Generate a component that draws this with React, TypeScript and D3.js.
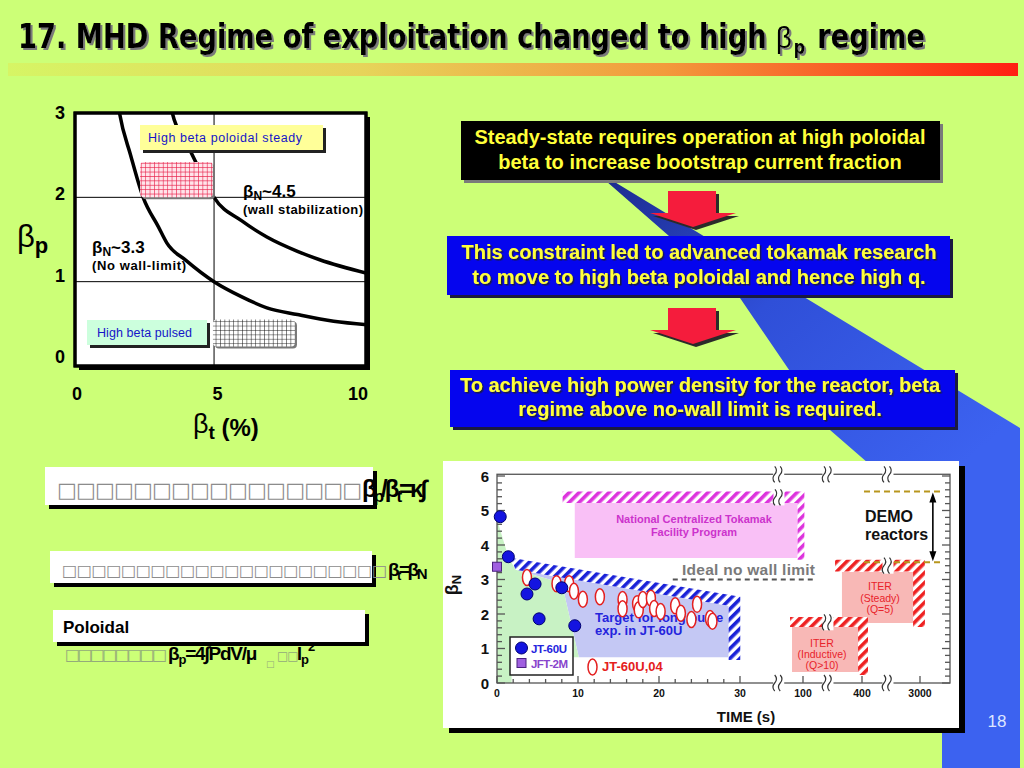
import React from 'react';
import * as d3 from 'd3';

type P = [number, number];

// ---------- left chart: beta_p vs beta_t ----------
const btTicks = [0, 5, 10];
const bpTicks = [0, 1, 2, 3];
const bpGrid = [1, 2];
const btGrid = [5];
// beta_N ~ 3.3 (no wall limit)
const noWallCurve: P[] = [
  [1.55, 3.1], [1.6, 3.0], [2.0, 2.5], [2.45, 2.0], [3.0, 1.65], [3.3, 1.46], [4.0, 1.25],
  [5.0, 1.0], [6.0, 0.82], [6.9, 0.69], [8.0, 0.61], [9.3, 0.53], [10.5, 0.49],
];
// beta_N ~ 4.5 (wall stabilization)
const wallCurve: P[] = [
  [3.45, 3.1], [3.5, 3.0], [4.0, 2.65], [4.6, 2.25], [5.0, 2.0], [6.0, 1.72], [6.9, 1.53],
  [8.0, 1.36], [8.8, 1.26], [10.5, 1.1],
];

// ---------- right chart: beta_N vs time ----------
const timeTicks = [0, 10, 20, 30, 100, 400, 3000];
const timeMinor = [2, 4, 6, 8, 12, 14, 16, 18, 22, 24, 26, 28];
const timeBreaks = [73, 227, 1565];
const betaNTicks = [0, 1, 2, 3, 4, 5, 6];
const jt60u: P[] = [[0.4, 4.82], [1.4, 3.66], [3.7, 2.58], [4.7, 2.87], [5.2, 1.86], [8.0, 2.76], [9.6, 1.66]];
const jft2m: P[] = [[0, 3.37]];
const jt60u04: P[] = [
  [3.7, 3.06], [7.35, 2.88], [8.9, 2.88], [9.5, 2.66], [10.6, 2.43], [12.7, 2.5], [15.5, 2.42],
  [15.5, 2.15], [17.3, 2.3], [17.5, 2.12], [18.0, 2.42], [19.0, 2.46], [19.4, 2.16], [20.2, 2.07],
  [22.0, 2.24], [22.7, 2.02], [24.0, 1.84], [24.7, 2.28], [26.3, 1.87], [26.6, 1.79],
];
const achievedRegion: P[] = [[0, 0], [0, 4.75], [1.4, 3.65], [2.3, 3.28], [8.0, 2.9], [10.1, 0.75], [1.8, 0.75], [1.8, 0]];
const targetFill: P[] = [[2.3, 3.28], [28.6, 2.24], [28.6, 0.75], [10.1, 0.75], [8.0, 2.9]];
const targetHatch: P[] = [[1.7, 3.63], [30.3, 2.5], [30.3, 0.67], [28.6, 0.67], [28.6, 2.24], [2.3, 3.28]];
const nctFill: P[] = [[9.6, 5.22], [94, 5.22], [94, 3.62], [9.6, 3.62]];
const nctHatch: P[] = [[8.1, 5.55], [107, 5.55], [107, 3.57], [94, 3.57], [94, 5.22], [8.1, 5.22]];
const iterSteadyFill: P[] = [[298, 3.22], [2690, 3.22], [2690, 1.74], [298, 1.74]];
const iterSteadyHatch: P[] = [[263, 3.57], [3230, 3.57], [3230, 1.62], [2690, 1.62], [2690, 3.23], [263, 3.23]];
const iterIndFill: P[] = [[87.8, 1.62], [380, 1.62], [380, 0.32], [87.8, 0.32]];
const iterIndHatch: P[] = [[85.6, 1.91], [669, 1.91], [669, 0.23], [380, 0.23], [380, 1.62], [85.6, 1.62]];
const idealLimit: P[] = [[21.7, 3.0], [160, 3.0]];
const demoLimits = [5.55, 3.5];
const demoSpan = [490, 4100];
const demoArrowAt = 3600;
const regionBreaks: P[] = [[73.3, 5.38], [227, 1.76], [1565, 3.4]];

const FF = "'Liberation Sans', Arial, Helvetica, sans-serif";
const NARROW = "'Liberation Sans Narrow', 'Arial Narrow', 'DejaVu Sans Condensed', sans-serif";
const BOX = "'DejaVu Sans', sans-serif";

const xL = d3.scaleLinear().domain([0, 10.5]).range([75, 367]);
const yL = d3.scaleLinear().domain([0, 3]).range([366, 113]);
const xLLabel = d3.scaleLinear().domain([0, 10]).range([77, 358]);
const yLLabel = d3.scaleLinear().domain([0, 3]).range([363, 119]);

const xR = d3.scaleLinear().domain([0, 30, 100, 400, 3000, 4400]).range([497, 740, 803, 862, 920, 950]);
const yR = d3.scaleLinear().domain([0, 6]).range([683, 476]);

const curveL = d3.line<P>().x(d => xL(d[0])).y(d => yL(d[1])).curve(d3.curveMonotoneX);
const polyR = (pts: P[]) => (d3.line()(pts.map(([t, b]) => [xR(t), yR(b)] as [number, number])) || '') + 'Z';

const BreakMark = ({ x, y }: { x: number; y: number }) => (
  <g>
    <rect x={x - 5.5} y={y - 8} width={11} height={16} fill="#fff" />
    <path
      d={`M${x - 4},${y - 8} q3.5,4 0,8 q-3.5,4 0,8 M${x + 1.5},${y - 8} q3.5,4 0,8 q-3.5,4 0,8`}
      fill="none" stroke="#333" strokeWidth={1.2}
    />
  </g>
);

const arrowPath = 'M668,191 H716 V213 H736 L693,227 L650,213 H668 Z';

export default function App() {
  const yMinor = d3.range(0, 6.001, 0.2).filter(v => Math.abs(v - Math.round(v)) > 0.01);
  const frameTop = yR(6.05);
  const frameRight = xR(4400);

  return (
    <div style={{ position: 'absolute', left: 0, top: 0 }}>
      <svg width={1024} height={768} viewBox="0 0 1024 768" style={{ display: 'block' }}>
        <defs>
          <linearGradient id="bar" x1="0" x2="1" y1="0" y2="0">
            <stop offset="0%" stopColor="#d6f565" />
            <stop offset="35%" stopColor="#e6d45a" />
            <stop offset="65%" stopColor="#f29a3c" />
            <stop offset="100%" stopColor="#ff1f12" />
          </linearGradient>
          <linearGradient id="beam" gradientUnits="userSpaceOnUse" x1="600" y1="180" x2="900" y2="520">
            <stop offset="0%" stopColor="#1c2b8e" />
            <stop offset="45%" stopColor="#2f4fd8" />
            <stop offset="100%" stopColor="#3c62f0" />
          </linearGradient>
          <filter id="titleShadow" x="-5%" y="-30%" width="110%" height="160%">
            <feDropShadow dx="2" dy="2" stdDeviation="0.4" floodColor="#7a7a7a" floodOpacity="1" />
          </filter>
          <filter id="boxShadow" x="-5%" y="-30%" width="110%" height="160%">
            <feDropShadow dx="1.5" dy="1.5" stdDeviation="0.3" floodColor="#1a1a40" floodOpacity="1" />
          </filter>
          <pattern id="redGrid" width="4.4" height="4.4" patternUnits="userSpaceOnUse">
            <rect width="4.4" height="4.4" fill="#ffe4ea" />
            <path d="M0,0 H4.4 M0,0 V4.4" stroke="#e8204a" strokeWidth="1.2" />
          </pattern>
          <pattern id="blackGrid" width="4.4" height="4.4" patternUnits="userSpaceOnUse">
            <rect width="4.4" height="4.4" fill="#fff" />
            <path d="M0,0 H4.4 M0,0 V4.4" stroke="#111" strokeWidth="1" />
          </pattern>
          {[['hBlue', '#1a22d8'], ['hMag', '#dd33dd'], ['hRed', '#ee2222']].map(([id, c]) => (
            <pattern key={id} id={id} width="7" height="7" patternUnits="userSpaceOnUse" patternTransform="rotate(45)">
              <rect width="7" height="7" fill="#fff" />
              <rect width="3.6" height="7" fill={c} />
            </pattern>
          ))}
          <clipPath id="leftPlot">
            <rect x={xL(0)} y={yL(3)} width={xL(10.5) - xL(0)} height={yL(0) - yL(3)} />
          </clipPath>
        </defs>

        {/* background */}
        <rect width={1024} height={768} fill="#ccff77" />

        {/* blue beam */}
        <path d="M606,181 L740,298 L830,430 L868,463 L942,720 L942,768 L1020,768 L1020,428 L613,181 Z" fill="url(#beam)" />

        {/* title */}
        <text x={18} y={48} fontFamily={NARROW} fontWeight="bold" fontSize={33} fill="#000"
          textLength={907} lengthAdjust="spacingAndGlyphs" filter="url(#titleShadow)">
          17. MHD Regime of exploitation changed to high <tspan fontFamily={FF} fontWeight="normal" fontSize={30}>β</tspan><tspan fontSize={19} dx={2} dy={6}>p</tspan><tspan dx={3} dy={-6}> regime</tspan>
        </text>
        <rect x={8} y={63} width={1010} height={13} fill="url(#bar)" />

        {/* ---------- left chart ---------- */}
        <rect x={79} y={117} width={291} height={253} fill="#000" />
        <rect x={75} y={113} width={291} height={253} fill="#fff" stroke="#000" strokeWidth={3} />
        {bpGrid.map(v => (
          <line key={'bg' + v} x1={xL(0)} x2={xL(10.5)} y1={yL(v)} y2={yL(v)} stroke="#000" strokeWidth={1} />
        ))}
        {btGrid.map(v => (
          <line key={'tg' + v} x1={xL(v)} x2={xL(v)} y1={yL(0)} y2={yL(3)} stroke="#000" strokeWidth={1} />
        ))}
        <g clipPath="url(#leftPlot)" fill="none" stroke="#000" strokeWidth={3.5}>
          <path d={curveL(noWallCurve) || ''} />
          <path d={curveL(wallCurve) || ''} />
        </g>
        <rect x={75} y={113} width={291} height={253} fill="none" stroke="#000" strokeWidth={3} />

        {/* annotation boxes */}
        <rect x={143} y={128} width={183} height={25} fill="#222" />
        <rect x={140} y={125} width={183} height={25} fill="#ffff99" />
        <text x={148} y={142} fontFamily={FF} fontSize={12.5} fill="#1515c8" textLength={154}>High beta poloidal steady</text>

        <rect x={xL(2.34) + 2} y={yL(2.42) + 2} width={xL(4.96) - xL(2.34)} height={yL(2.0) - yL(2.42)} rx={4} fill="#777" />
        <rect x={xL(2.34)} y={yL(2.42)} width={xL(4.96) - xL(2.34)} height={yL(2.0) - yL(2.42)} rx={4} fill="url(#redGrid)" />

        <rect x={90} y={323} width={120} height={25} fill="#222" />
        <rect x={87} y={320} width={120} height={25} fill="#ccffdd" />
        <text x={97} y={337} fontFamily={FF} fontSize={12.5} fill="#1515c8" textLength={95}>High beta pulsed</text>

        <rect x={xL(4.96) + 2} y={yL(0.55) + 2} width={xL(7.91) - xL(4.96)} height={yL(0.23) - yL(0.55)} rx={4} fill="#777" />
        <rect x={xL(4.96)} y={yL(0.55)} width={xL(7.91) - xL(4.96)} height={yL(0.23) - yL(0.55)} rx={4} fill="url(#blackGrid)" />

        <g fontFamily={FF} fontWeight="bold" fill="#000">
          <text x={243} y={197} fontSize={17}>β<tspan fontSize={12} dy={3}>N</tspan><tspan dy={-3}>~4.5</tspan></text>
          <text x={243} y={214} fontSize={13} textLength={120}>(wall stabilization)</text>
          <text x={92} y={253} fontSize={17}>β<tspan fontSize={12} dy={3}>N</tspan><tspan dy={-3}>~3.3</tspan></text>
          <text x={92} y={270} fontSize={13} textLength={94}>(No wall-limit)</text>

          {bpTicks.map(v => (
            <text key={'bp' + v} x={60} y={yLLabel(v)} fontSize={18} textAnchor="middle">{v}</text>
          ))}
          {btTicks.map(v => (
            <text key={'bt' + v} x={xLLabel(v)} y={400} fontSize={18} textAnchor="middle">{v}</text>
          ))}
          <text x={17} y={247} fontSize={31} fontWeight="normal">β<tspan fontSize={22} fontWeight="bold" dy={6}>p</tspan></text>
          <text x={193} y={433} fontSize={27} fontWeight="normal">β<tspan fontSize={19} fontWeight="bold" dy={6}>t</tspan><tspan fontSize={24} fontWeight="bold" dy={-3}> (%)</tspan></text>
        </g>

        {/* ---------- flow boxes ---------- */}
        <rect x={464} y={124} width={479} height={59} fill="#7a7a7a" />
        <rect x={461} y={121} width={479} height={59} fill="#000" />
        <g fontFamily={FF} fontWeight="bold" fontSize={20} textAnchor="middle" fill="#ffff3a">
          <text x={700} y={144} textLength={451}>Steady-state requires operation at high poloidal</text>
          <text x={700} y={169}>beta to increase bootstrap current fraction</text>
        </g>

        <path d={arrowPath} fill="#2a2a2a" transform="translate(3,3)" />
        <path d={arrowPath} fill="#f51c3c" />

        <rect x={450} y={239} width={503} height={59} fill="#1a1a40" />
        <rect x={447} y={236} width={503} height={59} fill="#0505ee" />
        <g fontFamily={FF} fontWeight="bold" fontSize={20} textAnchor="middle" fill="#ffff3a" filter="url(#boxShadow)">
          <text x={699} y={259} textLength={475}>This constraint led to advanced tokamak research</text>
          <text x={699} y={284}>to move to high beta poloidal and hence high q.</text>
        </g>

        <path d={arrowPath} fill="#2a2a2a" transform="translate(3,120)" />
        <path d={arrowPath} fill="#f51c3c" transform="translate(0,117)" />

        <rect x={453} y={373} width={505} height={57} fill="#1a1a40" />
        <rect x={450} y={370} width={505} height={57} fill="#0505ee" />
        <g fontFamily={FF} fontWeight="bold" fontSize={20} textAnchor="middle" fill="#ffff3a" filter="url(#boxShadow)">
          <text x={700} y={392} textLength={480}>To achieve high power density for the reactor, beta</text>
          <text x={700} y={416}>regime above no-wall limit is required.</text>
        </g>

        {/* ---------- bottom-left text boxes ---------- */}
        <rect x={49} y={471} width={328} height={38} fill="#000" />
        <rect x={45} y={467} width={328} height={38} fill="#fff" />
        <text x={57} y={497} fontFamily={BOX} fontSize={21} fill="#8c8c8c" textLength={305} lengthAdjust="spacing">{'□'.repeat(16)}</text>
        <text x={362} y={497} fontFamily={FF} fontWeight="bold" fontSize={24} fill="#000" letterSpacing={-3}>
          β<tspan fontSize={17} dy={5}>p</tspan><tspan dy={-5}>/β</tspan><tspan fontSize={17} dy={5}>t</tspan><tspan dy={-5}>=κ∫</tspan>
        </text>

        <rect x={54} y={555} width={322} height={32} fill="#000" />
        <rect x={50} y={551} width={322} height={32} fill="#fff" />
        <text x={62} y={576} fontFamily={BOX} fontSize={16} fill="#8c8c8c" textLength={325} lengthAdjust="spacing">{'□'.repeat(22)}</text>
        <text x={388} y={576} fontFamily={FF} fontWeight="bold" fontSize={19} fill="#000" letterSpacing={-2.5}>
          β<tspan fontSize={13} dy={4}>t</tspan><tspan dy={-4}>=β</tspan><tspan fontSize={15} dy={3}>N</tspan>
        </text>

        <rect x={57} y={614} width={312} height={32} fill="#000" />
        <rect x={53} y={610} width={312} height={32} fill="#fff" />
        <text x={63} y={633} fontFamily={FF} fontWeight="bold" fontSize={17} fill="#000">Poloidal</text>
        <text x={65} y={660} fontFamily={BOX} fontSize={16} fill="#93ab7a" textLength={102} lengthAdjust="spacing">{'□'.repeat(8)}</text>
        <text x={168} y={660} fontFamily={FF} fontWeight="bold" fontSize={19} fill="#000" letterSpacing={-1.2}>
          β<tspan fontSize={13} dy={4}>p</tspan><tspan dy={-4}>=4∫PdV/μ</tspan>
        </text>
        <text x={266} y={667} fontFamily={BOX} fontSize={9} fill="#93ab7a">□</text>
        <text x={277} y={660} fontFamily={BOX} fontSize={12} fill="#93ab7a" letterSpacing={-1}>□□</text>
        <text x={297} y={660} fontFamily={FF} fontWeight="bold" fontSize={18} fill="#000" letterSpacing={-1}>
          I<tspan fontSize={13} dy={4}>p</tspan><tspan fontSize={13} dy={-13}>2</tspan>
        </text>

        {/* ---------- right chart ---------- */}
        <rect x={449} y={466} width={516} height={267} fill="#000" />
        <rect x={443} y={461} width={516} height={267} fill="#fff" />

        <path d={polyR(targetFill)} fill="#c4c8f4" />
        <path d={polyR(achievedRegion)} fill="#c8f2c4" />
        <path d={polyR(targetHatch)} fill="url(#hBlue)" />
        <path d={polyR(nctFill)} fill="#f9c0f6" />
        <path d={polyR(nctHatch)} fill="url(#hMag)" />
        <path d={polyR(iterSteadyFill)} fill="#f8b8b6" />
        <path d={polyR(iterSteadyHatch)} fill="url(#hRed)" />
        <path d={polyR(iterIndFill)} fill="#f8b8b6" />
        <path d={polyR(iterIndHatch)} fill="url(#hRed)" />

        <line x1={xR(idealLimit[0][0])} x2={xR(idealLimit[1][0])} y1={yR(idealLimit[0][1])} y2={yR(idealLimit[1][1])}
          stroke="#555" strokeWidth={2} strokeDasharray="5,4" />
        {demoLimits.map(v => (
          <line key={'dm' + v} x1={xR(demoSpan[0])} x2={xR(demoSpan[1])} y1={yR(v)} y2={yR(v)}
            stroke="#b8961e" strokeWidth={2} strokeDasharray="6,4" />
        ))}
        <line x1={xR(demoArrowAt)} x2={xR(demoArrowAt)} y1={yR(demoLimits[0]) + 8} y2={yR(demoLimits[1]) - 8} stroke="#000" strokeWidth={1.6} />
        <path d={`M${xR(demoArrowAt)},${yR(demoLimits[0]) + 1} l-3.5,10 h7 Z M${xR(demoArrowAt)},${yR(demoLimits[1]) - 1} l-3.5,-10 h7 Z`} fill="#000" />

        {/* frame and ticks */}
        <g stroke="#555" strokeWidth={1.3} fill="none">
          <rect x={xR(0)} y={frameTop} width={frameRight - xR(0)} height={yR(0) - frameTop} />
          {betaNTicks.map(v => (
            <g key={'yt' + v}>
              <line x1={xR(0)} x2={xR(0) + 8} y1={yR(v)} y2={yR(v)} />
              <line x1={frameRight} x2={frameRight - 8} y1={yR(v)} y2={yR(v)} />
            </g>
          ))}
          {yMinor.map(v => (
            <g key={'ym' + v}>
              <line x1={xR(0)} x2={xR(0) + 5} y1={yR(v)} y2={yR(v)} />
              <line x1={frameRight} x2={frameRight - 5} y1={yR(v)} y2={yR(v)} />
            </g>
          ))}
          {timeTicks.map(v => (
            <line key={'xt' + v} x1={xR(v)} x2={xR(v)} y1={yR(0)} y2={yR(0) - 7} />
          ))}
          {timeMinor.map(v => (
            <line key={'xm' + v} x1={xR(v)} x2={xR(v)} y1={yR(0)} y2={yR(0) - 4} />
          ))}
        </g>

        {/* text in plot */}
        <g fontFamily={FF} fontWeight="bold">
          <text x={694} y={523} fontSize={11} fill="#cc33cc" textAnchor="middle">National Centralized Tokamak</text>
          <text x={694} y={536} fontSize={11} fill="#cc33cc" textAnchor="middle">Facility Program</text>
          <text x={682} y={575} fontSize={15.5} fill="#7a7a7a" textLength={133}>Ideal no wall limit</text>
          <text x={595} y={622} fontSize={13} fill="#2424dd">Target for long pulse</text>
          <text x={595} y={635} fontSize={13} fill="#2424dd">exp. in JT-60U</text>
          <text x={865} y={522} fontSize={16} fill="#111">DEMO</text>
          <text x={865} y={540} fontSize={16} fill="#111">reactors</text>
        </g>
        <g fontFamily={FF} fontSize={10.5} fill="#e8222a" textAnchor="middle">
          <text x={880} y={590}>ITER</text>
          <text x={880} y={601.5}>(Steady)</text>
          <text x={880} y={613}>(Q=5)</text>
          <text x={822} y={646.5}>ITER</text>
          <text x={822} y={657.5}>(Inductive)</text>
          <text x={822} y={668.5}>(Q&gt;10)</text>
        </g>

        {/* data points */}
        {jt60u04.map(([t, b], i) => (
          <ellipse key={'e' + i} cx={xR(t)} cy={yR(b)} rx={4.5} ry={8} fill="#fff" stroke="#e42020" strokeWidth={1.5} />
        ))}
        {jt60u.map(([t, b], i) => (
          <circle key={'c' + i} cx={xR(t)} cy={yR(b)} r={6} fill="#1414e0" stroke="#000070" strokeWidth={1} />
        ))}
        {jft2m.map(([t, b], i) => (
          <rect key={'s' + i} x={xR(t) - 4.5} y={yR(b) - 4.5} width={9} height={9} fill="#a060e0" stroke="#4a2080" strokeWidth={1} />
        ))}

        {/* breaks */}
        {timeBreaks.map(t => (
          <g key={'br' + t}>
            <BreakMark x={xR(t)} y={frameTop} />
            <BreakMark x={xR(t)} y={yR(0)} />
          </g>
        ))}
        {regionBreaks.map(([t, b]) => <BreakMark key={'rb' + t} x={xR(t)} y={yR(b)} />)}

        {/* legend */}
        <rect x={510} y={637} width={63} height={38} fill="#fff" stroke="#222" strokeWidth={1.5} />
        <circle cx={521.5} cy={648} r={6} fill="#1414e0" stroke="#000070" />
        <rect x={517} y={658.5} width={9} height={9} fill="#a060e0" stroke="#4a2080" />
        <ellipse cx={592.5} cy={667} rx={4.5} ry={8} fill="#fff" stroke="#e42020" strokeWidth={1.5} />
        <g fontFamily={FF} fontWeight="bold">
          <text x={531} y={652.5} fontSize={11.5} fill="#2424dd" textLength={36}>JT-60U</text>
          <text x={531} y={667.5} fontSize={11.5} fill="#8844cc" textLength={37}>JFT-2M</text>
          <text x={602} y={671} fontSize={13} fill="#e42020">JT-60U,04</text>
        </g>

        {/* axes labels */}
        <g fontFamily={FF} fontWeight="bold" fill="#111">
          {betaNTicks.map(v => (
            <text key={'yl' + v} x={489} y={yR(v) + 5.5} fontSize={15} textAnchor="end">{v}</text>
          ))}
          {timeTicks.map(v => (
            <text key={'xl' + v} x={xR(v)} y={697} fontSize={10.5} textAnchor="middle">{v}</text>
          ))}
          <text x={746} y={722} fontSize={15} textAnchor="middle">TIME (s)</text>
          <text transform="translate(458,585) rotate(-90)" fontSize={18} textAnchor="middle">β<tspan fontSize={13} dy={3}>N</tspan></text>
        </g>

        {/* slide number */}
        <text x={997} y={727} fontFamily={FF} fontSize={17} fill="#dde6ff" textAnchor="middle">18</text>
      </svg>
    </div>
  );
}
